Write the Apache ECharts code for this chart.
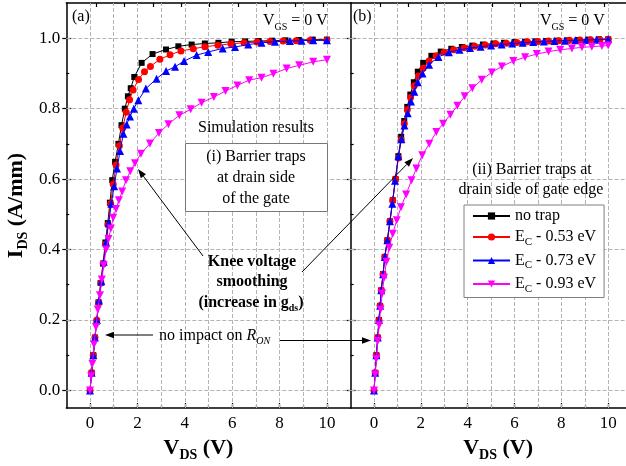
<!DOCTYPE html>
<html><head><meta charset="utf-8">
<script src="https://cdn.jsdelivr.net/npm/echarts@6/dist/echarts.min.js"></script>
<style>html,body{margin:0;padding:0;background:#fff;} #c{width:626px;height:466px;}</style>
</head><body><div id="c"></div>
<script>
const FONT = 'Liberation Serif';
const seriesNames = ['no trap', 'E_C - 0.53 eV', 'E_C - 0.73 eV', 'E_C - 0.93 eV'];
const seriesColors = ['#000000', '#ff0000', '#0000ff', '#ff00ff'];
const xMajorTicks = [0, 2, 4, 6, 8, 10];
const xGridValues = [0, 1, 2, 3, 4, 5, 6, 7, 8, 9, 10];
const yMajorTicks = [0, 0.2, 0.4, 0.6, 0.8, 1.0];
const yMinorTicks = [0.1, 0.3, 0.5, 0.7, 0.9];
const topTicks = [0.25, 1.45, 2.65, 3.85, 5.05, 6.25, 7.45, 8.65, 9.85];

// (a) barrier traps at drain side of the gate
const noTrapA = [[0,0],[0.07,0.05],[0.14,0.1],[0.21,0.15],[0.28,0.195],[0.36,0.25],[0.45,0.305],[0.55,0.36],[0.65,0.42],[0.75,0.475],[0.84,0.533],[0.94,0.597],[1.06,0.649],[1.2,0.70],[1.33,0.753],[1.47,0.80],[1.6,0.835],[1.72,0.858],[1.87,0.89],[2.18,0.93],[2.64,0.955],[3.21,0.968],[3.73,0.977],[4.29,0.982],[4.85,0.985],[5.42,0.987],[5.98,0.99],[6.55,0.991],[7.11,0.992],[7.68,0.993],[8.25,0.994],[8.81,0.995],[9.4,0.996],[10,0.996]];
const trap053A = [[0,0],[0.07,0.05],[0.14,0.1],[0.21,0.15],[0.29,0.2],[0.37,0.25],[0.46,0.305],[0.56,0.36],[0.66,0.415],[0.76,0.47],[0.87,0.53],[0.98,0.585],[1.1,0.64],[1.24,0.695],[1.38,0.745],[1.53,0.79],[1.67,0.825],[1.82,0.853],[2.05,0.883],[2.3,0.905],[2.55,0.92],[2.95,0.94],[3.38,0.953],[3.84,0.964],[4.36,0.97],[4.85,0.976],[5.4,0.98],[5.95,0.984],[6.5,0.987],[7.05,0.989],[7.6,0.991],[8.15,0.992],[8.7,0.993],[9.3,0.994],[10,0.995]];
const trap073A = [[0,0],[0.07,0.05],[0.14,0.1],[0.21,0.15],[0.29,0.2],[0.38,0.255],[0.48,0.31],[0.58,0.365],[0.68,0.42],[0.79,0.475],[0.9,0.53],[1.02,0.58],[1.14,0.63],[1.27,0.68],[1.41,0.729],[1.55,0.755],[1.69,0.778],[1.85,0.80],[2.04,0.824],[2.36,0.857],[2.81,0.885],[3.21,0.907],[3.59,0.919],[3.97,0.935],[4.5,0.952],[4.99,0.961],[5.6,0.971],[6.12,0.975],[6.68,0.982],[7.24,0.987],[7.81,0.99],[8.44,0.992],[8.93,0.993],[9.42,0.994],[10,0.994]];
const trap093A = [[0,0],[0.05,0.04],[0.1,0.076],[0.17,0.13],[0.25,0.18],[0.33,0.23],[0.42,0.27],[0.5,0.315],[0.58,0.355],[0.68,0.40],[0.78,0.43],[0.88,0.46],[0.98,0.49],[1.1,0.515],[1.22,0.54],[1.36,0.565],[1.52,0.597],[1.7,0.622],[1.9,0.645],[2.15,0.672],[2.53,0.701],[2.91,0.731],[3.31,0.756],[3.77,0.781],[4.25,0.798],[4.71,0.817],[5.23,0.833],[5.72,0.85],[6.22,0.866],[6.72,0.881],[7.24,0.888],[7.74,0.899],[8.3,0.914],[8.83,0.923],[9.42,0.933],[10,0.939]];

// (b) barrier traps at drain side of gate edge
const noTrapB = [[0,0],[0.05,0.05],[0.1,0.1],[0.16,0.15],[0.21,0.2],[0.26,0.24],[0.31,0.284],[0.385,0.33],[0.46,0.379],[0.57,0.426],[0.68,0.48],[0.8,0.54],[0.92,0.6],[1.04,0.665],[1.16,0.72],[1.29,0.765],[1.42,0.805],[1.55,0.84],[1.7,0.875],[1.87,0.905],[2.1,0.93],[2.45,0.95],[2.85,0.962],[3.3,0.97],[3.75,0.975],[4.2,0.979],[4.65,0.982],[5.1,0.985],[5.55,0.987],[6.0,0.989],[6.45,0.99],[6.9,0.991],[7.35,0.992],[7.8,0.993],[8.25,0.994],[8.7,0.995],[9.15,0.996],[9.6,0.997],[10,0.997]];
const trap053B = [[0,0],[0.05,0.05],[0.1,0.1],[0.16,0.15],[0.21,0.2],[0.26,0.24],[0.31,0.284],[0.385,0.33],[0.46,0.379],[0.57,0.426],[0.68,0.48],[0.8,0.54],[0.92,0.6],[1.04,0.66],[1.16,0.712],[1.29,0.757],[1.42,0.797],[1.56,0.832],[1.72,0.865],[1.9,0.893],[2.1,0.915],[2.35,0.935],[2.65,0.95],[3.0,0.96],[3.4,0.967],[3.85,0.973],[4.3,0.977],[4.75,0.981],[5.2,0.984],[5.65,0.986],[6.1,0.988],[6.55,0.99],[7.0,0.991],[7.45,0.992],[7.9,0.993],[8.35,0.994],[8.8,0.995],[9.25,0.996],[9.65,0.996],[10,0.997]];
const trap073B = [[0,0],[0.05,0.05],[0.1,0.1],[0.16,0.15],[0.21,0.2],[0.26,0.24],[0.31,0.284],[0.385,0.33],[0.46,0.379],[0.57,0.426],[0.68,0.48],[0.78,0.53],[0.9,0.595],[1.04,0.665],[1.17,0.713],[1.3,0.752],[1.44,0.787],[1.58,0.82],[1.72,0.848],[1.87,0.875],[2.07,0.9],[2.35,0.925],[2.75,0.947],[3.2,0.96],[3.65,0.967],[4.1,0.972],[4.55,0.976],[5.0,0.979],[5.45,0.982],[5.9,0.985],[6.35,0.987],[6.8,0.989],[7.25,0.991],[7.7,0.992],[8.15,0.993],[8.6,0.994],[9.05,0.995],[9.5,0.996],[10,0.997]];
const trap093B = [[0,0],[0.05,0.045],[0.1,0.09],[0.16,0.14],[0.22,0.185],[0.28,0.23],[0.35,0.275],[0.43,0.32],[0.53,0.365],[0.65,0.405],[0.8,0.445],[0.97,0.483],[1.15,0.52],[1.37,0.556],[1.6,0.597],[1.81,0.63],[2.06,0.668],[2.36,0.70],[2.66,0.734],[2.95,0.757],[3.26,0.783],[3.56,0.808],[3.87,0.835],[4.2,0.858],[4.6,0.882],[5.03,0.903],[5.46,0.92],[5.95,0.935],[6.45,0.946],[6.95,0.955],[7.45,0.962],[7.95,0.967],[8.45,0.971],[8.88,0.974],[9.3,0.976],[9.73,0.978],[10,0.979]];

const panelData = [[noTrapA, trap053A, trap073A, trap093A], [noTrapB, trap053B, trap073B, trap093B]];
const symbolStyles = [
  {symbol: 'rect', size: 6, rotate: 0},
  {symbol: 'circle', size: 7, rotate: 0},
  {symbol: 'triangle', size: 8, rotate: 0},
  {symbol: 'triangle', size: 8, rotate: 180}
];

const frameLine = {show: true, onZero: false, lineStyle: {color: '#000', width: 1.5}};
const tickLine = {color: '#000', width: 1.2};
const subRich = (size, bold, pad) => ({
  m: {fontFamily: FONT, fontSize: size, fontWeight: bold ? 'bold' : 'normal', color: '#000', lineHeight: size + 2},
  s: {fontFamily: FONT, fontSize: Math.round(size * 0.62), fontWeight: bold ? 'bold' : 'normal', color: '#000', padding: [pad, 0, 0, 0]}
});
const X_PER_PANEL = 3, Y_PER_PANEL = 3;

function xAxesFor(g, namePad) {
  return [
    {type: 'value', gridIndex: g, min: -1, max: 11, position: 'bottom', axisLine: frameLine,
     axisTick: {show: true, inside: true, length: 5, customValues: xMajorTicks, lineStyle: tickLine},
     axisLabel: {show: true, customValues: xMajorTicks, margin: 7, color: '#000', fontFamily: FONT, fontSize: 17},
     splitLine: {show: false},
     name: '{m|V}{s|DS}{m| (V)}', nameLocation: 'middle', nameGap: 26, nameMoveOverlap: false,
     nameTextStyle: {padding: namePad, rich: subRich(22, true, 14)}},
    {type: 'value', gridIndex: g, min: -1, max: 11, position: 'bottom',
     axisLine: {show: false, onZero: false},
     axisTick: {show: true, inside: true, length: 3, customValues: xGridValues, lineStyle: tickLine},
     axisLabel: {show: false}, splitLine: {show: false}},
    {type: 'value', gridIndex: g, min: -1, max: 11, position: 'top', axisLine: frameLine,
     axisTick: {show: true, inside: true, length: 4, customValues: topTicks, lineStyle: tickLine},
     axisLabel: {show: false}, splitLine: {show: false}}
  ];
}
function yAxesFor(g, showLabels) {
  return [
    {type: 'value', gridIndex: g, min: -0.05, max: 1.1, position: 'left', axisLine: frameLine,
     axisTick: {show: true, inside: true, length: 5, customValues: yMajorTicks, lineStyle: tickLine},
     axisLabel: {show: showLabels, customValues: yMajorTicks, formatter: v => v.toFixed(1), margin: 6,
                 color: '#000', fontFamily: FONT, fontSize: 17},
     splitLine: {show: false},
     name: showLabels ? '{m|I}{s|DS}{m| (A/mm)}' : '', nameLocation: 'middle', nameGap: 36, nameMoveOverlap: false,
     nameTextStyle: {rich: subRich(22, true, 14)}},
    {type: 'value', gridIndex: g, min: -0.05, max: 1.1, position: 'left', axisLine: {show: false, onZero: false},
     axisTick: {show: true, inside: true, length: 3, customValues: yMinorTicks, lineStyle: tickLine},
     axisLabel: {show: false}, splitLine: {show: false}},
    {type: 'value', gridIndex: g, min: -0.05, max: 1.1, position: 'left', axisLine: {show: false, onZero: false},
     axisTick: {show: true, inside: false, length: 4, customValues: yMajorTicks, lineStyle: tickLine},
     axisLabel: {show: false}, splitLine: {show: false}}
  ];
}

// dashed grid drawn through the axes' scales as mark lines
const gridMarkLine = {
  silent: true, symbol: ['none', 'none'], z: 1, animation: false,
  label: {show: false}, emphasis: {disabled: true},
  lineStyle: {color: '#b4b4b4', width: 1, type: 'dashed'},
  data: xGridValues.map(v => ({xAxis: v})).concat(yMajorTicks.map(v => ({yAxis: v})))
};

const series = [];
panelData.forEach((sets, p) => sets.forEach((d, i) => {
  const s = {
    type: 'line', name: seriesNames[i], xAxisIndex: p * X_PER_PANEL, yAxisIndex: p * Y_PER_PANEL, data: d,
    symbol: symbolStyles[i].symbol, symbolSize: symbolStyles[i].size, symbolRotate: symbolStyles[i].rotate,
    showSymbol: true, itemStyle: {color: seriesColors[i]},
    lineStyle: {color: seriesColors[i], width: 1}, z: 3 + i, emphasis: {disabled: true}
  };
  if (i === 0) s.markLine = gridMarkLine;
  series.push(s);
}));

function legendLabel(name) {
  if (name.indexOf('E_C') === 0) return '{m|E}{s|C}{m|' + name.slice(3) + '}';
  return '{m|' + name + '}';
}

function arrow(x1, y1, x2, y2) {
  const dx = x2 - x1, dy = y2 - y1, L = Math.hypot(dx, dy), ux = dx / L, uy = dy / L, hl = 9, hw = 3.2;
  const bx = x2 - ux * hl, by = y2 - uy * hl;
  return [
    {type: 'line', z: 100, shape: {x1: x1, y1: y1, x2: bx, y2: by}, style: {stroke: '#000', lineWidth: 1}},
    {type: 'polygon', z: 100, shape: {points: [[x2, y2], [bx - uy * hw, by + ux * hw], [bx + uy * hw, by - ux * hw]]}, style: {fill: '#000'}}
  ];
}
function txt(x, y, text, extra) {
  return {type: 'text', x: x, y: y, z: 100, style: Object.assign({text: text, fill: '#000', fontFamily: FONT, fontSize: 16,
    align: 'left', verticalAlign: 'middle'}, extra || {})};
}
const vgsRich = {m: {fontFamily: FONT, fontSize: 16, lineHeight: 18}, s: {fontFamily: FONT, fontSize: 10, padding: [12, 0, 0, 0]}};

const graphics = [].concat(
  [txt(72, 17, '(a)'), txt(353, 17, '(b)'),
   txt(263, 21, '{m|V}{s|GS}{m| = 0 V}', {rich: vgsRich}),
   txt(540, 21, '{m|V}{s|GS}{m| = 0 V}', {rich: vgsRich}),
   txt(256, 128, 'Simulation results', {align: 'center'}),
   {type: 'rect', z: 99, shape: {x: 185.5, y: 143.5, width: 142, height: 68}, style: {fill: '#fff', stroke: '#777', lineWidth: 1}},
   txt(256, 157, '(i) Barrier traps', {align: 'center'}),
   txt(256, 178, 'at drain side', {align: 'center'}),
   txt(256, 199, 'of the gate', {align: 'center'}),
   txt(252, 262, 'Knee voltage', {align: 'center', fontWeight: 'bold', fontSize: 16}),
   txt(252, 282, 'smoothing', {align: 'center', fontWeight: 'bold', fontSize: 16}),
   txt(251, 303, '{m|(increase in g}{s|ds}{m|)}', {align: 'center', rich: {
      m: {fontFamily: FONT, fontSize: 16, fontWeight: 'bold', lineHeight: 18},
      s: {fontFamily: FONT, fontSize: 10, fontWeight: 'bold', padding: [11, 0, 0, 0]}}}),
   txt(159, 336, '{m|no impact on }{i|R}{s|ON}', {rich: {
      m: {fontFamily: FONT, fontSize: 16, lineHeight: 18},
      i: {fontFamily: FONT, fontSize: 16, fontStyle: 'italic', lineHeight: 18},
      s: {fontFamily: FONT, fontSize: 10, fontStyle: 'italic', padding: [11, 0, 0, 0]}}}),
   txt(532, 170, '(ii) Barrier traps at', {align: 'center'}),
   txt(531, 190, 'drain side of gate edge', {align: 'center'})],
  arrow(203, 256, 138, 169),
  arrow(302, 272, 413, 158),
  arrow(153, 335, 105, 335),
  arrow(280, 340.5, 371, 340.5)
);

const option = {
  animation: false,
  backgroundColor: '#fff',
  grid: [
    {left: 66.3, top: 3, width: 284.3, height: 405, outerBoundsMode: 'none', containLabel: false},
    {left: 350.6, top: 3, width: 281, height: 405, outerBoundsMode: 'none', containLabel: false}
  ],
  xAxis: xAxesFor(0, [0, 20, 0, 0]).concat(xAxesFor(1, [0, 0, 0, 14])),
  yAxis: yAxesFor(0, true).concat(yAxesFor(1, false)),
  legend: {
    data: seriesNames, orient: 'vertical', left: 464, top: 205,
    itemWidth: 37, itemHeight: 9, itemGap: 5, padding: [3, 8, 3, 8],
    backgroundColor: '#fff', borderColor: '#808080', borderWidth: 1, borderRadius: 0,
    selectedMode: false, z: 50,
    formatter: legendLabel,
    textStyle: {color: '#000', fontFamily: FONT, fontSize: 16, rich: {
      m: {fontFamily: FONT, fontSize: 16, color: '#000', lineHeight: 20},
      s: {fontFamily: FONT, fontSize: 11, color: '#000', padding: [10, 0, 0, 0]}}}
  },
  graphic: graphics,
  series: series
};
const chart = echarts.init(document.getElementById('c'), null, {renderer: 'canvas'});
chart.setOption(option);
</script></body></html>
